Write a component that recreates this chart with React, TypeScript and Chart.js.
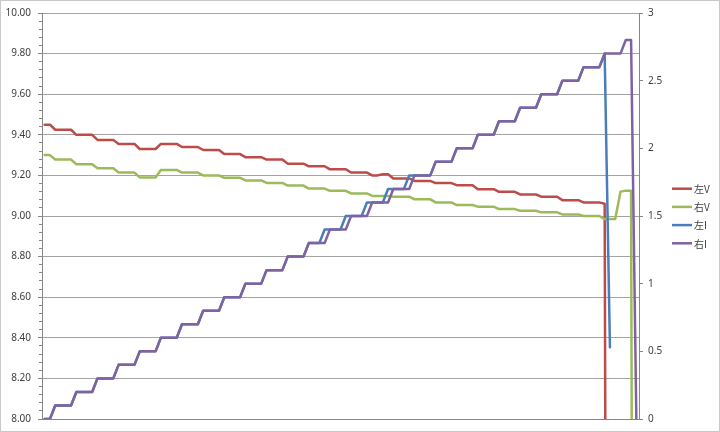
import React, { useEffect, useRef } from "react";
import { Chart, registerables } from "chart.js";

Chart.register(...registerables);

// sample index (x axis has no labels)
const categories: string[] = Array.from({ length: 113 }, (_, i) => String(i + 1));

const seriesNames = ["左V", "右V", "左I", "右I"];
const seriesColors = ["#BE4B48", "#9BBB59", "#4A7EBB", "#7F62A1"];

// 左V (left axis)
const leftV: (number | null)[] = [
  9.45, 9.45,
  9.425, 9.425, 9.425, 9.425,
  9.4, 9.4, 9.4, 9.4,
  9.375, 9.375, 9.375, 9.375,
  9.355, 9.355, 9.355, 9.355,
  9.33, 9.33, 9.33, 9.33,
  9.355, 9.355, 9.355, 9.355,
  9.34, 9.34, 9.34, 9.34,
  9.325, 9.325, 9.325, 9.325,
  9.305, 9.305, 9.305, 9.305,
  9.29, 9.29, 9.29, 9.29,
  9.278, 9.278, 9.278, 9.278,
  9.258, 9.258, 9.258, 9.258,
  9.245, 9.245, 9.245, 9.245,
  9.23, 9.23, 9.23, 9.23,
  9.214, 9.214, 9.214, 9.214,
  9.2, 9.2, 9.206, 9.206,
  9.185, 9.185, 9.185, 9.185,
  9.173, 9.173, 9.173, 9.173,
  9.162, 9.162, 9.162, 9.162,
  9.152, 9.152, 9.152, 9.152,
  9.132, 9.132, 9.132, 9.132,
  9.119, 9.119, 9.119, 9.119,
  9.106, 9.106, 9.106, 9.106,
  9.095, 9.095, 9.095, 9.095,
  9.078, 9.078, 9.078, 9.078,
  9.067, 9.067, 9.067, 9.067,
  9.06, 0,
  null, null, null, null, null,
];

// 右V (left axis)
const rightV: (number | null)[] = [
  9.3, 9.3,
  9.278, 9.278, 9.278, 9.278,
  9.255, 9.255, 9.255, 9.255,
  9.235, 9.235, 9.235, 9.235,
  9.214, 9.214, 9.214, 9.214,
  9.19, 9.19, 9.19, 9.19,
  9.227, 9.227, 9.227, 9.227,
  9.214, 9.214, 9.214, 9.214,
  9.2, 9.2, 9.2, 9.2,
  9.188, 9.188, 9.188, 9.188,
  9.175, 9.175, 9.175, 9.175,
  9.163, 9.163, 9.163, 9.163,
  9.15, 9.15, 9.15, 9.15,
  9.135, 9.135, 9.135, 9.135,
  9.124, 9.124, 9.124, 9.124,
  9.111, 9.111, 9.111, 9.111,
  9.099, 9.099, 9.099, 9.099,
  9.095, 9.095, 9.095, 9.095,
  9.082, 9.082, 9.082, 9.082,
  9.067, 9.067, 9.067, 9.067,
  9.054, 9.054, 9.054, 9.054,
  9.046, 9.046, 9.046, 9.046,
  9.034, 9.034, 9.034, 9.034,
  9.026, 9.026, 9.026, 9.026,
  9.018, 9.018, 9.018, 9.018,
  9.008, 9.008, 9.008, 9.008,
  9.0, 9.0, 9.0, 9.0,
  8.985, 8.985, 8.985,
  9.12, 9.125, 9.125,
  0,
];

// 左I (right axis)
const leftI: (number | null)[] = [
  0, 0,
  0.1, 0.1, 0.1, 0.1,
  0.2, 0.2, 0.2, 0.2,
  0.3, 0.3, 0.3, 0.3,
  0.4, 0.4, 0.4, 0.4,
  0.5, 0.5, 0.5, 0.5,
  0.6, 0.6, 0.6, 0.6,
  0.7, 0.7, 0.7, 0.7,
  0.8, 0.8, 0.8, 0.8,
  0.9, 0.9, 0.9, 0.9,
  1.0, 1.0, 1.0, 1.0,
  1.1, 1.1, 1.1, 1.1,
  1.2, 1.2, 1.2, 1.2,
  1.3, 1.3, 1.3, 1.4,
  1.4, 1.4, 1.4, 1.5,
  1.5, 1.5, 1.5, 1.6,
  1.6, 1.6, 1.6, 1.7,
  1.7, 1.7, 1.7, 1.8,
  1.8, 1.8, 1.8, 1.8,
  1.9, 1.9, 1.9, 1.9,
  2.0, 2.0, 2.0, 2.0,
  2.1, 2.1, 2.1, 2.1,
  2.2, 2.2, 2.2, 2.2,
  2.3, 2.3, 2.3, 2.3,
  2.4, 2.4, 2.4, 2.4,
  2.5, 2.5, 2.5, 2.5,
  2.6, 2.6, 2.6, 2.6,
  2.7, 0.53,
  null, null, null, null, null,
];

// 右I (right axis)
const rightI: (number | null)[] = [
  0, 0,
  0.1, 0.1, 0.1, 0.1,
  0.2, 0.2, 0.2, 0.2,
  0.3, 0.3, 0.3, 0.3,
  0.4, 0.4, 0.4, 0.4,
  0.5, 0.5, 0.5, 0.5,
  0.6, 0.6, 0.6, 0.6,
  0.7, 0.7, 0.7, 0.7,
  0.8, 0.8, 0.8, 0.8,
  0.9, 0.9, 0.9, 0.9,
  1.0, 1.0, 1.0, 1.0,
  1.1, 1.1, 1.1, 1.1,
  1.2, 1.2, 1.2, 1.2,
  1.3, 1.3, 1.3, 1.3,
  1.4, 1.4, 1.4, 1.4,
  1.5, 1.5, 1.5, 1.5,
  1.6, 1.6, 1.6, 1.6,
  1.7, 1.7, 1.7, 1.7,
  1.8, 1.8, 1.8, 1.8,
  1.9, 1.9, 1.9, 1.9,
  2.0, 2.0, 2.0, 2.0,
  2.1, 2.1, 2.1, 2.1,
  2.2, 2.2, 2.2, 2.2,
  2.3, 2.3, 2.3, 2.3,
  2.4, 2.4, 2.4, 2.4,
  2.5, 2.5, 2.5, 2.5,
  2.6, 2.6, 2.6, 2.6,
  2.7, 2.7, 2.7, 2.7,
  2.8, 2.8,
  0,
];

const leftAxis = { min: 8, max: 10, step: 0.2, minorStep: 0.04 };
const rightAxis = { min: 0, max: 3, step: 0.5 };

const TICK_FONT = { family: "'Noto Sans', 'DejaVu Sans', sans-serif", size: 10 };
const TEXT_COLOR = "#404040";

const frame = {
  id: "frame",
  beforeDraw(chart: any) {
    const { ctx, width, height } = chart;
    ctx.save();
    ctx.fillStyle = "#ffffff";
    ctx.fillRect(0, 0, width, height);
    ctx.strokeStyle = "#c8c8c8";
    ctx.lineWidth = 1;
    ctx.strokeRect(0.5, 0.5, width - 1, height - 1);
    ctx.restore();
  },
};

const sideLegend = {
  id: "sideLegend",
  afterDraw(chart: any) {
    const { ctx, chartArea } = chart;
    const n = chart.data.datasets.length;
    const rowH = 18.2;
    const cy = (chartArea.top + chartArea.bottom) / 2;
    const y0 = cy - ((n - 1) * rowH) / 2;
    const x0 = chartArea.right + 33;
    ctx.save();
    chart.data.datasets.forEach((ds: any, i: number) => {
      const y = y0 + i * rowH;
      ctx.strokeStyle = ds.borderColor;
      ctx.lineWidth = 2.5;
      ctx.beginPath();
      ctx.moveTo(x0, y);
      ctx.lineTo(x0 + 20, y);
      ctx.stroke();
      ctx.fillStyle = TEXT_COLOR;
      ctx.font = "10px 'Noto Sans CJK SC', 'Noto Sans', sans-serif";
      ctx.textBaseline = "middle";
      ctx.textAlign = "left";
      ctx.fillText(ds.label, x0 + 22, y + 0.5);
    });
    ctx.restore();
  },
};

export default function App() {
  const ref = useRef<HTMLCanvasElement | null>(null);

  useEffect(() => {
    if (!ref.current) return;
    const mk = (i: number, data: (number | null)[], axis: string, order: number) => ({
      label: seriesNames[i],
      data,
      yAxisID: axis,
      borderColor: seriesColors[i],
      backgroundColor: seriesColors[i],
      borderWidth: 2.5,
      pointRadius: 0,
      tension: 0,
      spanGaps: false,
      order,
    });
    const chart = new Chart(ref.current, {
      type: "line",
      data: {
        labels: categories,
        datasets: [
          mk(0, leftV, "y", 3),
          mk(1, rightV, "y", 2),
          mk(2, leftI, "y1", 1),
          mk(3, rightI, "y1", 0),
        ],
      },
      options: {
        responsive: false,
        animation: false,
        devicePixelRatio: 1,
        layout: { padding: { top: 12, right: 51, left: 0, bottom: 0 } },
        elements: { line: { borderJoinStyle: "round", borderCapStyle: "round" } },
        plugins: { legend: { display: false }, tooltip: { enabled: false } },
        scales: {
          x: {
            type: "category",
            offset: true,
            grid: { display: false },
            ticks: { display: false },
            border: { color: "#868686", width: 1 },
            afterFit: (s: any) => { s.height = 12; },
          },
          y: {
            position: "left",
            min: leftAxis.min,
            max: leftAxis.max,
            weight: 1,
            ticks: {
              stepSize: leftAxis.step,
              callback: (v: any) => Number(v).toFixed(2),
              padding: 7,
              color: TEXT_COLOR,
              font: TICK_FONT,
            },
            grid: { color: "#a3a3a3", tickLength: 4, tickColor: "#868686" },
            border: { color: "#868686", width: 1 },
            afterFit: (s: any) => { s.width = 42; },
          },
          yMinor: {
            position: "left",
            min: leftAxis.min,
            max: leftAxis.max,
            weight: -1,
            ticks: { display: false, stepSize: leftAxis.minorStep, font: { size: 4 } },
            grid: { drawOnChartArea: false, tickLength: 3, color: "#868686" },
            border: { display: false },
            afterFit: (s: any) => { s.width = 0; },
          },
          y1: {
            position: "right",
            min: rightAxis.min,
            max: rightAxis.max,
            ticks: {
              stepSize: rightAxis.step,
              callback: (v: any) => String(Math.round(Number(v) * 10) / 10),
              padding: 5,
              color: TEXT_COLOR,
              font: TICK_FONT,
            },
            grid: { drawOnChartArea: false, tickLength: 4, color: "#868686" },
            border: { color: "#868686", width: 1 },
            afterFit: (s: any) => { s.width = 30; },
          },
        },
      } as any,
      plugins: [frame, sideLegend],
    });
    return () => chart.destroy();
  }, []);

  return (
    <div style={{ position: "absolute", left: 0, top: 0, width: 720, height: 432 }}>
      <canvas ref={ref} width={720} height={432} style={{ display: "block", width: 720, height: 432 }} />
    </div>
  );
}
